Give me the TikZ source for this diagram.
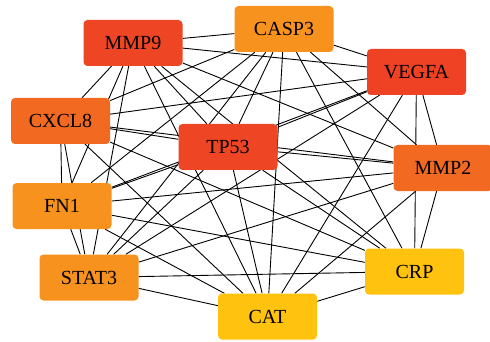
\documentclass[tikz,border=0pt]{standalone}
\usepackage{fontspec}
\newfontfamily\genefont{Liberation Serif}
\usepackage{tikz}
\usetikzlibrary{backgrounds}
\definecolor{hubred}{HTML}{EE4524}
\definecolor{hubdeep}{HTML}{EF4123}
\definecolor{huborange}{HTML}{F26922}
\definecolor{hublight}{HTML}{F7921E}
\definecolor{hubyellow}{HTML}{FFC20E}
\tikzset{
  gene/.style={rectangle, rounded corners=4pt, minimum width=99pt,
    minimum height=46pt, inner sep=0pt, text=black,
    font=\genefont\fontsize{20}{20}\selectfont},
  link/.style={draw=black, line width=0.9pt}
}

\begin{document}
\begin{tikzpicture}[x=1pt,y=-1pt]
\useasboundingbox (0,0) rectangle (490,342);
% genes
\node[gene, fill=hubred] (mmp9) at (133,43) {MMP9};
\node[gene, fill=hublight] (casp3) at (284,29) {CASP3};
\node[gene, fill=hubdeep] (vegfa) at (416.5,72) {VEGFA};
\node[gene, fill=huborange] (cxcl8) at (60.5,121) {CXCL8};
\node[gene, fill=hubred] (tp53) at (228,147) {TP53};
\node[gene, fill=huborange] (mmp2) at (443,168) {MMP2};
\node[gene, fill=hublight] (fn1) at (62,206) {FN1};
\node[gene, fill=hublight] (stat3) at (89,277.5) {STAT3};
\node[gene, fill=hubyellow] (crp) at (414.5,271.5) {CRP};
\node[gene, fill=hubyellow] (cat) at (267.5,316.5) {CAT};
% interactions
\begin{scope}[on background layer]
\draw[link] (mmp9) edge (casp3) edge (vegfa) edge (cxcl8) edge (tp53)
  edge (mmp2) edge (fn1) edge (stat3) edge (crp) edge (cat);
\draw[link] (casp3) edge (vegfa) edge (cxcl8) edge (tp53) edge (mmp2)
  edge (fn1) edge (stat3) edge (crp) edge (cat);
\draw[link] (vegfa) edge (cxcl8) edge (tp53) edge (mmp2) edge (fn1)
  edge (stat3) edge (crp) edge (cat);
\draw[link] (cxcl8) edge (tp53) edge (mmp2) edge (fn1) edge (stat3)
  edge (crp) edge (cat);
\draw[link] (tp53) edge (mmp2) edge (fn1) edge (stat3) edge (crp)
  edge (cat);
\draw[link] (mmp2) edge (fn1) edge (stat3) edge (crp) edge (cat);
\draw[link] (fn1) edge (stat3) edge (crp) edge (cat);
\draw[link] (stat3) edge (crp) edge (cat);
\draw[link] (crp) edge (cat);
\end{scope}
\end{tikzpicture}
\end{document}
